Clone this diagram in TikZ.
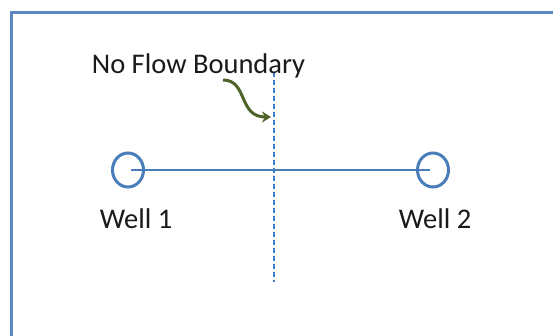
\documentclass[tikz,border=0pt]{standalone}
\usepackage{fontspec}
\setmainfont{Carlito}
\usetikzlibrary{shapes.geometric,arrows.meta}
\definecolor{frameblue}{HTML}{5B87C5}
\definecolor{wellblue}{HTML}{4A7EBB}
\definecolor{dashblue}{HTML}{3F7FD0}
\definecolor{arrowgreen}{HTML}{4F6228}
\definecolor{txt}{HTML}{1A1A1A}
\tikzset{
  wellnode/.style={draw=wellblue, line width=3pt, ellipse, minimum width=31pt, minimum height=34pt, inner sep=0pt},
  lbl/.style={text=txt, font=\fontsize{28.5}{32}\selectfont, inner sep=0pt, anchor=base},
  frameline/.style={draw=frameblue, line width=3.2pt},
}
\begin{document}
\begin{tikzpicture}[x=1pt,y=-1pt]
\useasboundingbox (0,0) rectangle (553,335);
\fill[white] (0,0) rectangle (553,335);
\draw[frameline] (11.5,340) -- (11.5,12.5) -- (560,12.5);
\node[wellnode] (w1) at (128,170) {};
\node[wellnode] (w2) at (433,170) {};
\draw[draw=wellblue, line width=1.2pt] ([xshift=3pt]w1.center) -- ([xshift=-3pt]w2.center);
\coordinate (btop) at (273.5,72);
\coordinate (bbot) at (273.5,282);
\draw[draw=dashblue, line width=2pt, dash pattern=on 5pt off 3pt] (btop) -- (bbot);
\node[lbl] (nfb) at (198.5,73.5) {No Flow Boundary};
\node[lbl] (l1) at (136,228) {Well 1};
\node[lbl] (l2) at (435,228) {Well 2};
\coordinate (astart) at (223,80);
\coordinate (aend) at (271,117);
\draw[arrowgreen, line width=3pt, -{Stealth[length=9pt,width=11pt]}] (astart) .. controls (248,80) and (238,117) .. (aend);
\end{tikzpicture}
\end{document}
